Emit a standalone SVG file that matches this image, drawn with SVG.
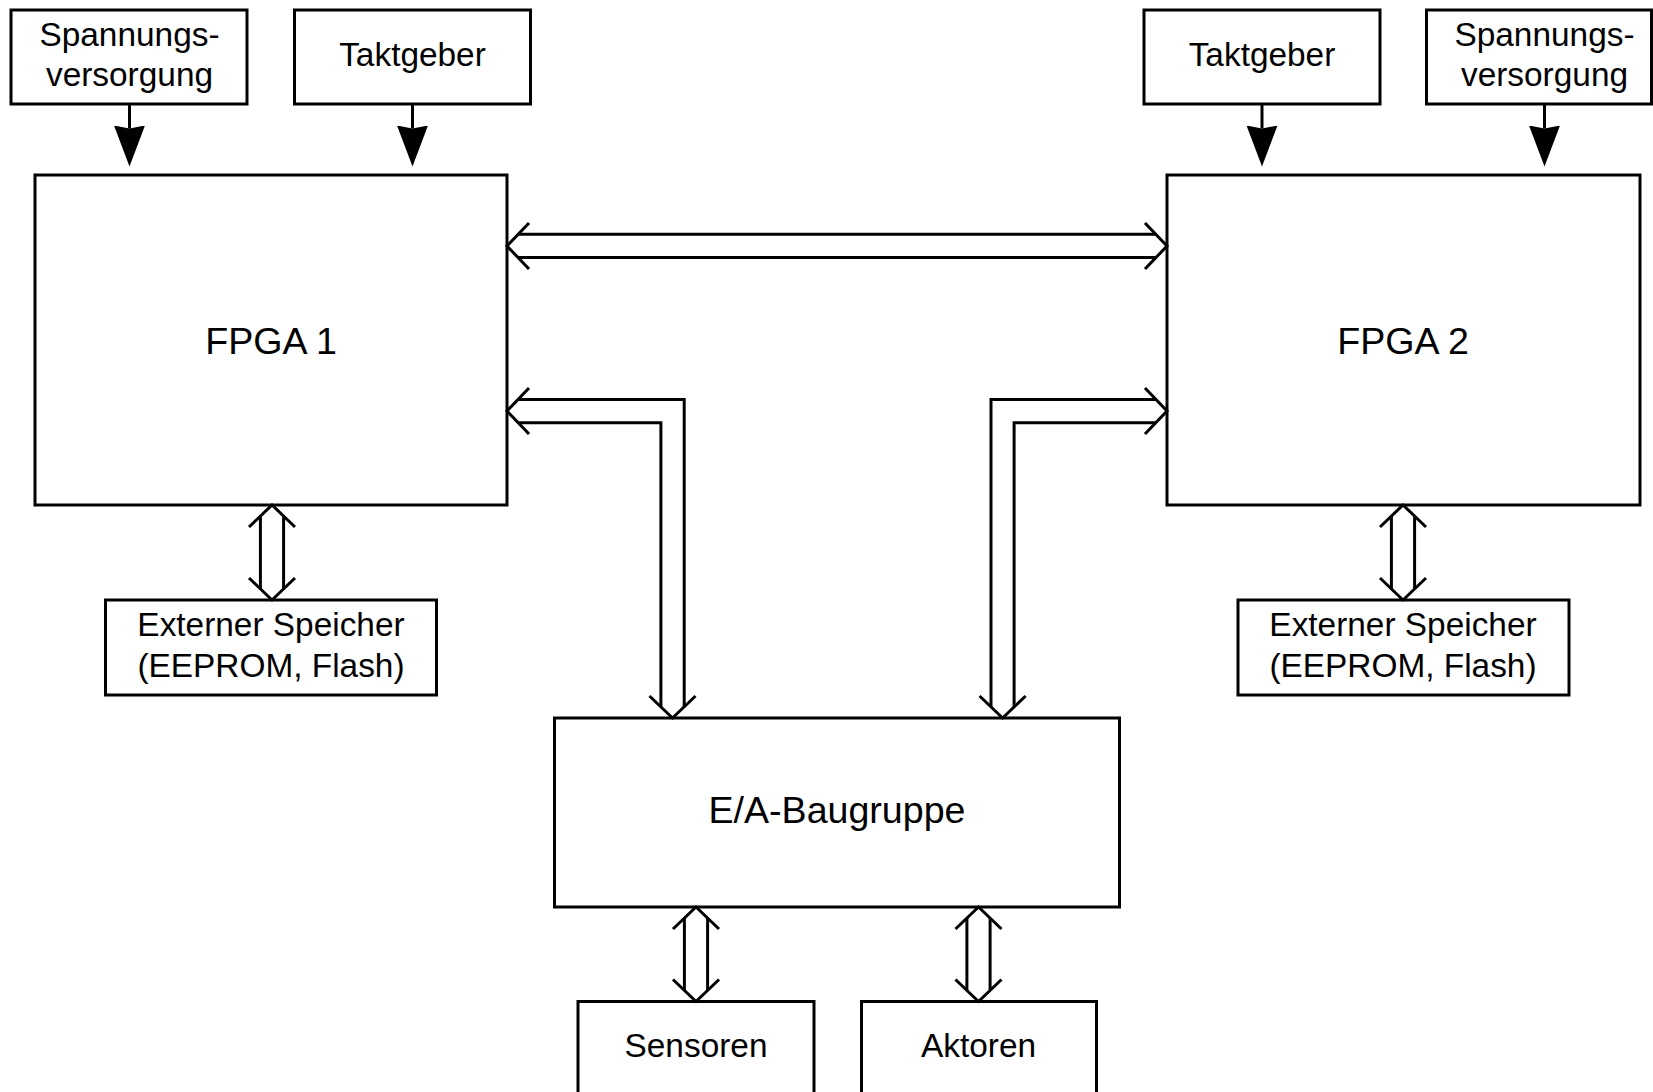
<svg xmlns="http://www.w3.org/2000/svg" xmlns:xlink="http://www.w3.org/1999/xlink" width="1653" height="1092" viewBox="0 0 1653 1092">
<defs>
<style>
.box{fill:#fff;stroke:#000;stroke-width:3}
.t{font-family:"Liberation Sans",Arial,sans-serif;font-size:33.4px;fill:#000;text-anchor:middle}
.big{font-size:37.6px}
.ln{fill:none;stroke:#000;stroke-width:3}
</style>
<marker id="fa" markerUnits="userSpaceOnUse" markerWidth="44" markerHeight="34" viewBox="0 -17 44 34" refX="3" refY="0" orient="auto">
<path d="M0,-15.5 L41,0 L0,15.5 L3,0 Z" fill="#000"/>
</marker>
<path id="chev" d="M22,-23 L0,0 L22,23" fill="none" stroke="#000" stroke-width="3"/>
</defs>
<rect width="1653" height="1092" fill="#fff"/>

<g id="spannung1"><rect class="box" x="11" y="10" width="236" height="94"/><text class="t" x="129.5" y="46">Spannungs-</text><text class="t" x="129.5" y="86">versorgung</text></g>
<g id="takt1"><rect class="box" x="294.5" y="10" width="236" height="94"/><text class="t" x="412.5" y="66">Taktgeber</text></g>
<g id="takt2"><rect class="box" x="1144" y="10" width="236" height="94"/><text class="t" x="1262" y="66">Taktgeber</text></g>
<g id="spannung2"><rect class="box" x="1426.5" y="10" width="225" height="94"/><text class="t" x="1544.5" y="46">Spannungs-</text><text class="t" x="1544.5" y="86">versorgung</text></g>

<g id="fpga1"><rect class="box" x="35" y="175" width="472" height="330"/><text class="t big" x="271" y="353.5">FPGA 1</text></g>
<g id="fpga2"><rect class="box" x="1167" y="175" width="473" height="330"/><text class="t big" x="1403" y="353.5">FPGA 2</text></g>

<g id="ext1"><rect class="box" x="105.5" y="600" width="331" height="95"/><text class="t" x="271" y="635.5">Externer Speicher</text><text class="t" x="271" y="676.5">(EEPROM, Flash)</text></g>
<g id="ext2"><rect class="box" x="1238" y="600" width="331" height="95"/><text class="t" x="1403" y="635.5">Externer Speicher</text><text class="t" x="1403" y="676.5">(EEPROM, Flash)</text></g>

<g id="ea"><rect class="box" x="554.5" y="718" width="565" height="189"/><text class="t big" x="837" y="823">E/A-Baugruppe</text></g>

<g id="sensoren"><rect class="box" x="578" y="1001.5" width="236" height="120"/><text class="t" x="696" y="1057">Sensoren</text></g>
<g id="aktoren"><rect class="box" x="861.5" y="1001.5" width="235" height="120"/><text class="t" x="978.5" y="1057">Aktoren</text></g>

<g id="connectors">
<!-- supply / clock arrows -->
<line class="ln" x1="129.5" y1="104" x2="129.5" y2="128.5" marker-end="url(#fa)"/>
<line class="ln" x1="412.5" y1="104" x2="412.5" y2="128.5" marker-end="url(#fa)"/>
<line class="ln" x1="1262" y1="104" x2="1262" y2="128.5" marker-end="url(#fa)"/>
<line class="ln" x1="1544.5" y1="104" x2="1544.5" y2="128.5" marker-end="url(#fa)"/>

<!-- FPGA1 <-> FPGA2 -->
<path class="ln" d="M518,234.3 H1156 M518,257.5 H1156"/>
<use xlink:href="#chev" transform="translate(507,246)"/>
<use xlink:href="#chev" transform="translate(1167,246) rotate(180)"/>

<!-- FPGA1 <-> E/A -->
<path class="ln" d="M518,399.5 H684.2 V707 M518,422.7 H660.9 V707"/>
<use xlink:href="#chev" transform="translate(507,411)"/>
<use xlink:href="#chev" transform="translate(672.5,718) rotate(-90)"/>

<!-- FPGA2 <-> E/A -->
<path class="ln" d="M991,707 V399.5 H1156 M1014.1,707 V422.7 H1156"/>
<use xlink:href="#chev" transform="translate(1167,411) rotate(180)"/>
<use xlink:href="#chev" transform="translate(1002.6,718) rotate(-90)"/>

<!-- FPGA1 <-> Ext1 -->
<path class="ln" d="M260.4,516 V589 M283.6,516 V589"/>
<use xlink:href="#chev" transform="translate(272,505) rotate(90)"/>
<use xlink:href="#chev" transform="translate(272,600) rotate(-90)"/>

<!-- FPGA2 <-> Ext2 -->
<path class="ln" d="M1391.4,516 V589 M1414.6,516 V589"/>
<use xlink:href="#chev" transform="translate(1403,505) rotate(90)"/>
<use xlink:href="#chev" transform="translate(1403,600) rotate(-90)"/>

<!-- E/A <-> Sensoren -->
<path class="ln" d="M684.4,918 V990.5 M707.6,918 V990.5"/>
<use xlink:href="#chev" transform="translate(696,907) rotate(90)"/>
<use xlink:href="#chev" transform="translate(696,1001.5) rotate(-90)"/>

<!-- E/A <-> Aktoren -->
<path class="ln" d="M966.9,918 V990.5 M990.1,918 V990.5"/>
<use xlink:href="#chev" transform="translate(978.5,907) rotate(90)"/>
<use xlink:href="#chev" transform="translate(978.5,1001.5) rotate(-90)"/>
</g>
</svg>
